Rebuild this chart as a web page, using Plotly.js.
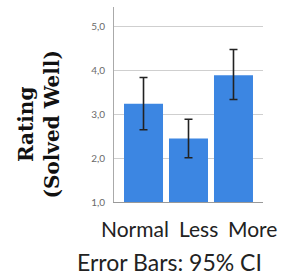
<!DOCTYPE html>
<html><head><meta charset="utf-8">
<script src="https://cdn.plot.ly/plotly-3.0.1.min.js"></script>
<style>html,body{margin:0;padding:0;background:#fff}#c{width:281px;height:280px}</style>
</head><body><div id="c"></div>
<script>
var categories = ["Normal", "Less", "More"];
var means = [3.24, 2.45, 3.89];
var ciUpper = [3.84, 2.89, 4.48];
var ciLower = [2.65, 2.01, 3.34];
var yTicks = [1, 2, 3, 4, 5];

var plus = means.map(function(m,i){return ciUpper[i]-m;});
var minus = means.map(function(m,i){return m-ciLower[i];});

var trace = {
  type: 'bar', x: categories, y: means,
  marker: {color: '#3c86e2', line: {width: 0}},
  error_y: {type: 'data', symmetric: false, array: plus, arrayminus: minus,
            color: '#222', thickness: 1.6, width: 4},
  hoverinfo: 'none'
};
var labelShift = [-9, 10, 19];
var annotations = categories.map(function(c, i){
  return {text: c, xref: 'x', yref: 'paper', x: c, y: -0.135, xshift: labelShift[i],
          xanchor: 'center', yanchor: 'middle', showarrow: false,
          font: {family: 'Lato, sans-serif', size: 21, color: '#222'}};
});
annotations.push(
  {text: '<b>Rating<br>(Solved Well)</b>', xref: 'paper', yref: 'paper', x: (38.5-114)/149, y: 0.395,
   xanchor: 'center', yanchor: 'middle', textangle: -90, showarrow: false,
   font: {family: 'DejaVu Serif, serif', size: 20, color: '#111'}},
  {text: 'Error Bars: 95% CI', xref: 'paper', yref: 'paper', x: (169.5-114)/149, y: -0.31,
   xanchor: 'center', yanchor: 'middle', showarrow: false,
   font: {family: 'Lato, sans-serif', size: 23, color: '#222'}}
);
var layout = {
  width: 281, height: 280,
  margin: {l: 114, r: 18, t: 7, b: 78},
  paper_bgcolor: '#fff', plot_bgcolor: '#fff',
  separators: ',.',
  bargap: 0.133,
  showlegend: false,
  xaxis: {range: [-0.656, 2.656], showgrid: false, showline: true, linecolor: '#999', linewidth: 1,
          ticks: '', showticklabels: false, fixedrange: true},
  yaxis: {range: [1, 5.45], tickvals: yTicks, tickformat: '.1f', showgrid: true, gridcolor: '#cfcfcf',
          zeroline: false, showline: true, linecolor: '#aaa', linewidth: 1, ticks: 'outside', ticklen: 6,
          tickcolor: 'rgba(0,0,0,0)', tickfont: {family: 'Lato, sans-serif', size: 10, color: '#6a6a6a'}},
  annotations: annotations
};
Plotly.newPlot('c', [trace], layout, {displayModeBar: false, staticPlot: true});
</script></body></html>
